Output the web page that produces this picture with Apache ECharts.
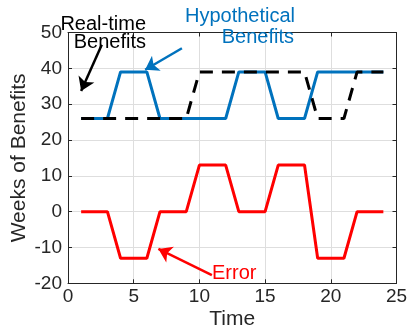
<!DOCTYPE html>
<html>
<head>
<meta charset="utf-8">
<script src="https://cdn.jsdelivr.net/npm/echarts@6/dist/echarts.min.js"></script>
<style>
  html, body { margin: 0; padding: 0; background: #fff; }
  #chart { width: 408px; height: 331px; }
</style>
</head>
<body>
<div id="chart"></div>
<script>
// data
const timeSteps = [1, 2, 3, 4, 5, 6, 7, 8, 9, 10, 11, 12, 13, 14, 15, 16, 17, 18, 19, 20, 21, 22, 23, 24];
const hypothetical = [26, 26, 26, 39, 39, 39, 26, 26, 26, 26, 26, 26, 39, 39, 39, 26, 26, 26, 39, 39, 39, 39, 39, 39];
const realTime = [26, 26, 26, 26, 26, 26, 26, 26, 26, 39, 39, 39, 39, 39, 39, 39, 39, 39, 26, 26, 26, 39, 39, 39];
const errorVals = [0, 0, 0, -13, -13, -13, 0, 0, 0, 13, 13, 13, 0, 0, 0, 13, 13, 13, -13, -13, -13, 0, 0, 0];

const xTicks = [0, 5, 10, 15, 20, 25];
const yTicks = [-20, -10, 0, 10, 20, 30, 40, 50];

// annotation arrows (tail -> head, in data units)
const realArrow = [[2.57, 46.6], [1.0, 33.7]];
const hypoArrow = [[8.67, 45.6], [5.87, 39.6]];
const errArrow = [[10.95, -17.7], [6.88, -10.4]];

const font = "'Liberation Sans', Arial, Helvetica, sans-serif";
const axisColor = '#262626';

const pairs = (ys) => timeSteps.map((t, i) => [t, ys[i]]);

const chart = echarts.init(document.getElementById('chart'));

const baseX = {
  type: 'value',
  min: xTicks[0],
  max: xTicks[xTicks.length - 1],
  interval: 5,
  axisLine: { onZero: false, lineStyle: { color: axisColor, width: 1 } },
  axisTick: { inside: true, length: 4, lineStyle: { color: axisColor } }
};
const baseY = {
  type: 'value',
  min: yTicks[0],
  max: yTicks[yTicks.length - 1],
  interval: 10,
  axisLine: { show: true, onZero: false, lineStyle: { color: axisColor, width: 1 } },
  axisTick: { show: true, inside: true, length: 4, lineStyle: { color: axisColor } }
};

const arrowSeries = (coords, color) => ({
  type: 'lines',
  coordinateSystem: 'cartesian2d',
  symbol: ['none', 'arrow'],
  symbolSize: [0, 13],
  lineStyle: { color: color, width: 2.5, opacity: 1 },
  z: 5,
  data: [{ coords: coords }]
});

const option = {
  animation: false,
  textStyle: { fontFamily: font },
  grid: { left: 68, right: 11.5, top: 32.5, bottom: 47.7, containLabel: false, outerBoundsMode: 'none' },
  xAxis: [
    Object.assign({}, baseX, {
      position: 'bottom',
      name: 'Time',
      nameLocation: 'middle',
      nameGap: 25,
      nameMoveOverlap: false,
      nameTextStyle: { fontSize: 21, color: axisColor, fontFamily: font },
      axisLabel: { fontSize: 19, color: axisColor, margin: 4, fontFamily: font },
      splitLine: { show: true, lineStyle: { color: '#dedede', width: 1 } }
    }),
    Object.assign({}, baseX, {
      position: 'top',
      axisLabel: { show: false },
      splitLine: { show: false }
    })
  ],
  yAxis: [
    Object.assign({}, baseY, {
      position: 'left',
      name: 'Weeks of Benefits',
      nameLocation: 'middle',
      nameGap: 38,
      nameMoveOverlap: false,
      nameTextStyle: { fontSize: 21, color: axisColor, fontFamily: font },
      axisLabel: { fontSize: 19, color: axisColor, margin: 6, fontFamily: font },
      splitLine: { show: true, lineStyle: { color: '#dedede', width: 1 } }
    }),
    Object.assign({}, baseY, {
      position: 'right',
      axisLabel: { show: false },
      splitLine: { show: false }
    })
  ],
  series: [
    {
      name: 'Hypothetical Benefits',
      type: 'line',
      data: pairs(hypothetical),
      symbol: 'none',
      lineStyle: { color: '#0072BD', width: 3 },
      z: 2
    },
    {
      name: 'Real-time Benefits',
      type: 'line',
      data: pairs(realTime),
      symbol: 'none',
      lineStyle: { color: '#000', width: 3, type: [13, 9] },
      z: 3
    },
    {
      name: 'Error',
      type: 'line',
      data: pairs(errorVals),
      symbol: 'none',
      lineStyle: { color: '#FF0000', width: 3 },
      z: 4
    },
    arrowSeries(realArrow, '#000'),
    arrowSeries(hypoArrow, '#0072BD'),
    arrowSeries(errArrow, '#FF0000')
  ],
  graphic: [
    { type: 'text', right: 408 - 146, top: 14, z: 10,
      style: { text: 'Real-time', fill: '#000', font: '20px ' + font } },
    { type: 'text', right: 408 - 146, top: 32, z: 10,
      style: { text: 'Benefits', fill: '#000', font: '20px ' + font } },
    { type: 'text', right: 408 - 295, top: 6, z: 10,
      style: { text: 'Hypothetical', fill: '#0072BD', font: '20px ' + font } },
    { type: 'text', right: 408 - 294, top: 27, z: 10,
      style: { text: 'Benefits', fill: '#0072BD', font: '20px ' + font } },
    { type: 'text', left: 212, top: 263, z: 10,
      style: { text: 'Error', fill: '#FF0000', font: '20px ' + font } }
  ]
};

chart.setOption(option);
</script>
</body>
</html>
